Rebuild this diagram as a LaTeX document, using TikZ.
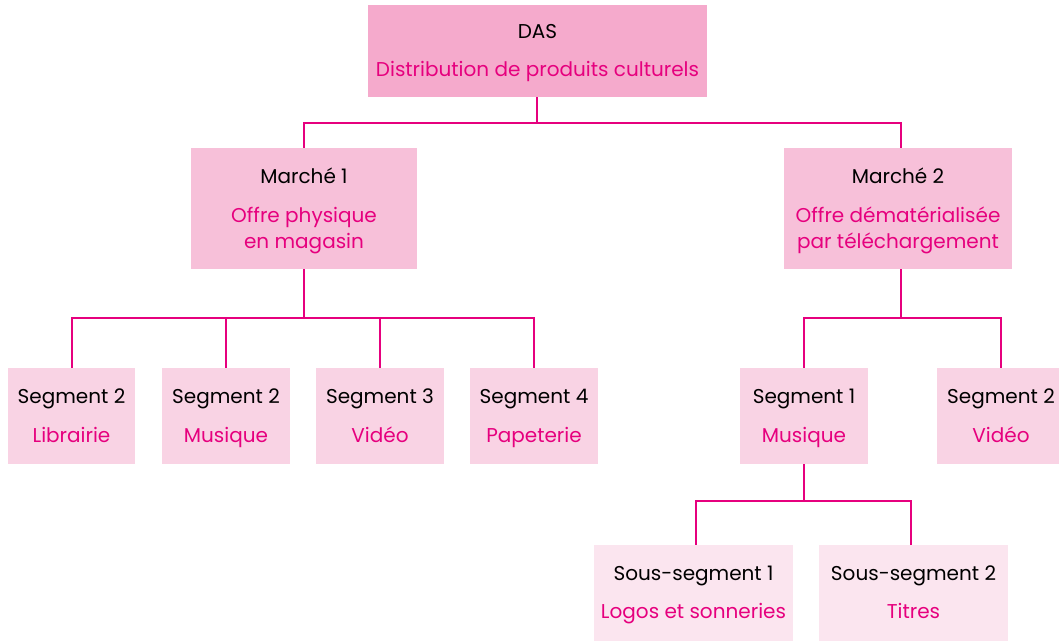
\documentclass[tikz,border=0pt]{standalone}
\usepackage{fontspec}
\setmainfont{Poppins}
\usetikzlibrary{calc}
\definecolor{magt}{HTML}{E6007E}
\definecolor{fa}{HTML}{F5AACC}
\definecolor{fb}{HTML}{F7C0D9}
\definecolor{fc}{HTML}{F9D3E4}
\definecolor{fd}{HTML}{FBE5EF}
\tikzset{
  box/.style={rectangle, draw=none, inner sep=0pt},
  link/.style={draw=magt, line width=1.5pt},
  hd/.style={anchor=base, text=black, font=\fontsize{20}{20}\selectfont, inner sep=0pt},
  sb/.style={anchor=base, text=magt, font=\fontsize{20}{20}\selectfont, inner sep=0pt},
}
\begin{document}
\begin{tikzpicture}[x=1pt,y=-1pt]
\useasboundingbox (0,0) rectangle (1059,640);
\begin{scope}
\clip (0,0) rectangle (1059,640);
% boxes
\node[box, fill=fa, minimum width=339pt, minimum height=92pt] (das) at (537.5,51) {};
\node[box, fill=fb, minimum width=226pt, minimum height=121pt] (m1) at (304,208.5) {};
\node[box, fill=fb, minimum width=228pt, minimum height=121pt] (m2) at (898,208.5) {};
\node[box, fill=fc, minimum width=127pt, minimum height=96pt] (s1) at (71.5,416) {};
\node[box, fill=fc, minimum width=128pt, minimum height=96pt] (s2) at (226,416) {};
\node[box, fill=fc, minimum width=128pt, minimum height=96pt] (s3) at (380,416) {};
\node[box, fill=fc, minimum width=128pt, minimum height=96pt] (s4) at (534,416) {};
\node[box, fill=fc, minimum width=128pt, minimum height=96pt] (t1) at (804,416) {};
\node[box, fill=fc, minimum width=130pt, minimum height=96pt] (t2) at (1002,416) {};
\node[box, fill=fd, minimum width=199pt, minimum height=96pt] (u1) at (693.5,593) {};
\node[box, fill=fd, minimum width=189pt, minimum height=96pt] (u2) at (913.5,593) {};
\end{scope}
% texts
\node[hd] (dasA) at (537.5,38) {DAS};
\node[sb] (dasB) at (537.5,76) {Distribution de produits culturels};
\node[hd] (m1A) at (304,183) {Marché 1};
\node[sb] (m1B) at (304,222) {Offre physique};
\node[sb] (m1C) at (304,248) {en magasin};
\node[hd] (m2A) at (898,183) {Marché 2};
\node[sb] (m2B) at (898,222) {Offre dématérialisée};
\node[sb] (m2C) at (898,248) {par téléchargement};
\node[hd] (s1A) at (71.5,403) {Segment 2};
\node[sb] (s1B) at (71.5,442) {Librairie};
\node[hd] (s2A) at (226,403) {Segment 2};
\node[sb] (s2B) at (226,442) {Musique};
\node[hd] (s3A) at (380,403) {Segment 3};
\node[sb] (s3B) at (380,442) {Vidéo};
\node[hd] (s4A) at (534,403) {Segment 4};
\node[sb] (s4B) at (534,442) {Papeterie};
\node[hd] (t1A) at (804,403) {Segment 1};
\node[sb] (t1B) at (804,442) {Musique};
\node[hd] (t2A) at (1001,403) {Segment 2};
\node[sb] (t2B) at (1001,442) {Vidéo};
\node[hd] (u1A) at (693.5,580) {Sous-segment 1};
\node[sb] (u1B) at (693.5,618) {Logos et sonneries};
\node[hd] (u2A) at (913.5,580) {Sous-segment 2};
\node[sb] (u2B) at (913.5,618) {Titres};
% connectors
\draw[link] ($(das.south)+(-0.5,0)$) -- ++(0,26) -| (m1.north);
\draw[link] ($(das.south)+(-0.5,0)$) -- ++(0,26) -| ($(m2.north)+(3,0)$);
\foreach \s in {s2,s3,s4} \draw[link] (m1.south) -- ++(0,49) -| (\s.north);
\draw[link] (m1.south) -- ++(0,49) -| ($(s1.north)+(0.5,0)$);
\draw[link] ($(m2.south)+(3,0)$) -- ++(0,49) -| (t1.north);
\draw[link] ($(m2.south)+(3,0)$) -- ++(0,49) -| ($(t2.north)+(-1,0)$);
\draw[link] (t1.south) -- ++(0,37) -| ($(u1.north)+(2.5,0)$);
\draw[link] (t1.south) -- ++(0,37) -| ($(u2.north)+(-2.5,0)$);
\end{tikzpicture}
\end{document}
